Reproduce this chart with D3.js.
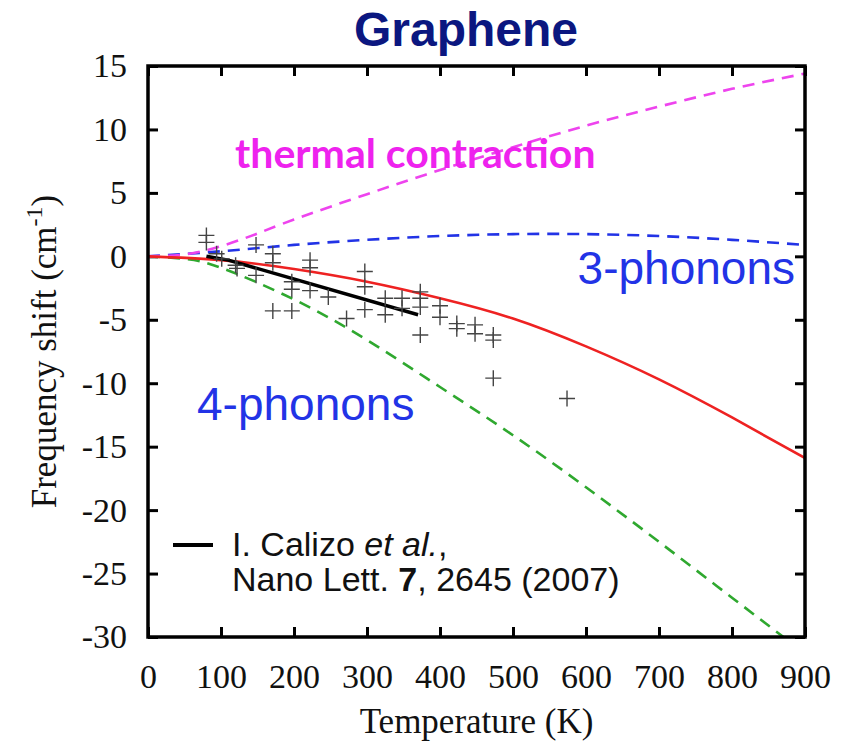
<!DOCTYPE html>
<html>
<head>
<meta charset="utf-8">
<script src="https://cdn.jsdelivr.net/npm/d3@7"></script>
<style>
  body { margin: 0; background: #fff; }
  svg { display: block; }
</style>
</head>
<body>
<div id="chart"></div>
<script>
const xTicks = [0, 100, 200, 300, 400, 500, 600, 700, 800, 900];
const yTicks = [15, 10, 5, 0, -5, -10, -15, -20, -25, -30];

// model curves [temperature K, shift cm-1]
const thermalContraction = [[0, 0], [50, 0.15], [100, 0.8], [150, 1.8], [200, 2.9], [300, 4.9], [400, 6.8], [500, 8.6], [600, 10.3], [700, 11.8], [800, 13.2], [900, 14.4]];
const threePhonons = [[0, 0], [100, 0.4], [200, 0.9], [300, 1.3], [400, 1.6], [500, 1.75], [600, 1.75], [700, 1.6], [800, 1.3], [900, 0.9]];
const fourPhonons = [[0, 0], [50, -0.2], [100, -0.9], [200, -3.4], [300, -6.6], [400, -10.3], [500, -14.1], [600, -18.2], [700, -22.5], [800, -26.9], [900, -31.3]];
const total = [[0, 0], [100, -0.3], [200, -1.0], [300, -2.0], [400, -3.3], [500, -4.9], [600, -7.1], [700, -9.7], [800, -12.7], [900, -15.9]];
const calizoFit = [[80, 0.0], [110, -0.3], [370, -4.6]];

// measured points
const measured = [
  [80, 1.65], [80, 1.1], [94, 0.2], [101, -0.2], [120, -0.7], [122, -0.95],
  [148, 0.9], [148, -1.5], [171, 0.2], [171, -0.5], [171, -4.3],
  [197, -2.0], [197, -2.6], [197, -4.3], [222, -0.3], [222, -0.9], [222, -2.7],
  [247, -3.2], [272, -4.9], [297, -1.2], [297, -2.4], [297, -4.2],
  [325, -3.3], [325, -4.6], [348, -3.3], [348, -4.1],
  [373, -2.8], [373, -3.3], [373, -4.0], [373, -6.2],
  [400, -3.9], [400, -4.8], [423, -5.3], [423, -5.7], [448, -5.4], [448, -6.1],
  [473, -6.2], [473, -6.6], [473, -9.6], [574, -11.2]
];

const W = 849, H = 747;
const margin = { top: 66, right: 44, bottom: 110, left: 148 };
const width = W - margin.left - margin.right;
const height = H - margin.top - margin.bottom;

const svg = d3.select("#chart").append("svg")
  .attr("width", W)
  .attr("height", H);

const x = d3.scaleLinear().domain([0, 900]).range([0, width]);
const y = d3.scaleLinear().domain([-30, 15]).range([height, 0]);

const serif = "'Liberation Serif', 'Times New Roman', serif";
const sans = "'Liberation Sans', Arial, sans-serif";

// title
svg.append("text")
  .attr("x", 466)
  .attr("y", 46)
  .attr("text-anchor", "middle")
  .attr("font-family", sans)
  .attr("font-weight", "bold")
  .attr("font-size", 48)
  .attr("fill", "#0b1780")
  .text("Graphene");

const chart = svg.append("g")
  .attr("transform", `translate(${margin.left},${margin.top})`);

chart.append("clipPath").attr("id", "clip")
  .append("rect").attr("width", width).attr("height", height);

// axes with inward ticks
const styleAxis = (g) => {
  g.select(".domain").remove();
  g.selectAll(".tick line").attr("stroke", "#000").attr("stroke-width", 3);
  g.selectAll(".tick text")
    .attr("font-family", serif)
    .attr("font-size", 34)
    .attr("fill", "#111");
};

const plain = (d) => String(d);

chart.append("g")
  .attr("transform", `translate(0,${height})`)
  .call(d3.axisBottom(x).tickValues(xTicks).tickSize(-10).tickPadding(27).tickFormat(plain))
  .call(styleAxis);

chart.append("g")
  .call(d3.axisTop(x).tickValues(xTicks).tickSize(-10).tickFormat(""))
  .call(styleAxis);

chart.append("g")
  .call(d3.axisLeft(y).tickValues(yTicks).tickSize(-10).tickPadding(21).tickFormat(plain))
  .call(styleAxis);

chart.append("g")
  .attr("transform", `translate(${width},0)`)
  .call(d3.axisRight(y).tickValues(yTicks).tickSize(-10).tickFormat(""))
  .call(styleAxis);

const line = d3.line()
  .x((d) => x(d[0]))
  .y((d) => y(d[1]))
  .curve(d3.curveNatural);

const plot = chart.append("g").attr("clip-path", "url(#clip)");

const series = [
  { data: fourPhonons, color: "#2fa82f", dash: "12,8" },
  { data: threePhonons, color: "#2233e6", dash: "12,8" },
  { data: thermalContraction, color: "#ee44ee", dash: "12,8" },
  { data: total, color: "#ee2222", dash: null }
];

series.forEach((s) => {
  plot.append("path")
    .attr("d", line(s.data))
    .attr("fill", "none")
    .attr("stroke", s.color)
    .attr("stroke-width", 2.6)
    .attr("stroke-dasharray", s.dash);
});

plot.append("path")
  .attr("d", d3.line().x((d) => x(d[0])).y((d) => y(d[1]))(calizoFit))
  .attr("fill", "none")
  .attr("stroke", "#000")
  .attr("stroke-width", 3.5);

// crosses
const arm = 8;
plot.selectAll(".pt")
  .data(measured)
  .enter()
  .append("path")
  .attr("class", "pt")
  .attr("d", (d) => {
    const cx = x(d[0]), cy = y(d[1]);
    return `M${cx - arm},${cy}H${cx + arm}M${cx},${cy - arm}V${cy + arm}`;
  })
  .attr("stroke", "#444")
  .attr("stroke-width", 1.4)
  .attr("fill", "none");

// frame
chart.append("rect")
  .attr("width", width)
  .attr("height", height)
  .attr("fill", "none")
  .attr("stroke", "#000")
  .attr("stroke-width", 3.5);

// annotations
chart.append("text")
  .attr("x", 235 - margin.left)
  .attr("y", 168 - margin.top)
  .attr("font-family", "Lato, 'Open Sans', sans-serif")
  .attr("font-weight", "bold")
  .attr("font-size", 41)
  .attr("fill", "#ee22ee")
  .text("thermal contraction");

chart.append("text")
  .attr("x", 795 - margin.left)
  .attr("y", 284 - margin.top)
  .attr("text-anchor", "end")
  .attr("font-family", sans)
  .attr("font-size", 46)
  .attr("fill", "#2233e6")
  .text("3-phonons");

chart.append("text")
  .attr("x", 197 - margin.left)
  .attr("y", 420 - margin.top)
  .attr("font-family", sans)
  .attr("font-size", 46)
  .attr("fill", "#2233e6")
  .text("4-phonons");

// legend
chart.append("line")
  .attr("x1", 173 - margin.left).attr("x2", 213 - margin.left)
  .attr("y1", 545 - margin.top).attr("y2", 545 - margin.top)
  .attr("stroke", "#000").attr("stroke-width", 4);

const leg1 = chart.append("text")
  .attr("x", 232 - margin.left)
  .attr("y", 556 - margin.top)
  .attr("font-family", sans)
  .attr("font-size", 34)
  .attr("fill", "#111");
leg1.append("tspan").text("I. Calizo ");
leg1.append("tspan").attr("font-style", "italic").text("et al.");
leg1.append("tspan").text(",");

const leg2 = chart.append("text")
  .attr("x", 232 - margin.left)
  .attr("y", 591 - margin.top)
  .attr("font-family", sans)
  .attr("font-size", 34)
  .attr("fill", "#111");
leg2.append("tspan").text("Nano Lett. ");
leg2.append("tspan").attr("font-weight", "bold").text("7");
leg2.append("tspan").text(", 2645 (2007)");

// axis titles
svg.append("text")
  .attr("x", margin.left + width / 2)
  .attr("y", 733)
  .attr("text-anchor", "middle")
  .attr("font-family", serif)
  .attr("font-size", 35)
  .attr("fill", "#111")
  .text("Temperature (K)");

const yTitle = svg.append("text")
  .attr("transform", `translate(56,${margin.top + height / 2}) rotate(-90)`)
  .attr("text-anchor", "middle")
  .attr("font-family", serif)
  .attr("font-size", 35)
  .attr("fill", "#111");
yTitle.append("tspan").text("Frequency shift (cm");
yTitle.append("tspan").attr("font-size", 24).attr("dy", -14).text("-1");
yTitle.append("tspan").attr("dy", 14).text(")");
</script>
</body>
</html>
